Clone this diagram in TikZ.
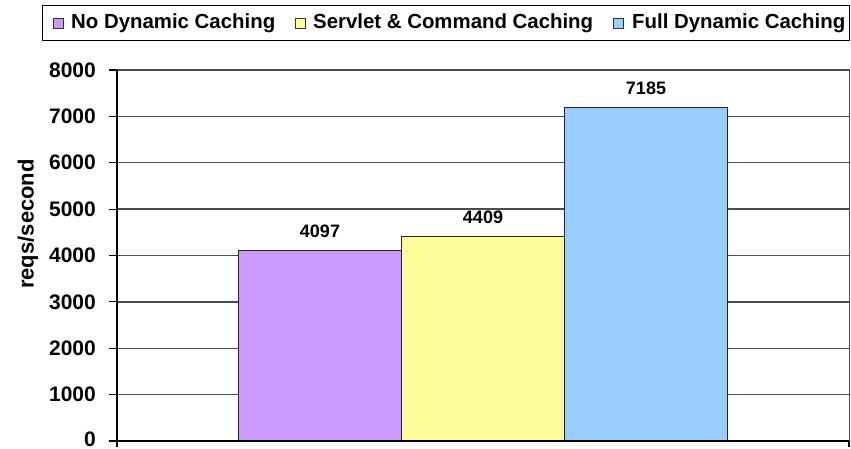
\documentclass[tikz,border=0pt]{standalone}
\usepackage{fontspec}
\setmainfont{Liberation Sans}
\begin{document}
\begin{tikzpicture}[x=1pt,y=-1pt,
  grid/.style={draw=black!70,line width=1.3pt},
  axisline/.style={draw=black,line width=1.2pt},
  bar/.style={draw=black!85,line width=1pt,anchor=south west,inner sep=0pt,minimum width=163pt},
  val/.style={font=\fontsize{18}{20}\selectfont\bfseries,inner sep=0pt},
  tick/.style={font=\fontsize{21}{24}\selectfont\bfseries,anchor=east,inner sep=0pt},
  legtext/.style={font=\fontsize{20.4}{24}\selectfont\bfseries,anchor=west,inner sep=0pt},
  legkey/.style={draw=black!80,line width=0.8pt,minimum size=10pt,inner sep=0pt}]
\useasboundingbox (0,0) rectangle (851,449);
% plot area frame and horizontal gridlines
\draw[draw=black!70,line width=1pt] (117,70) rectangle (849,441);
\foreach \k in {1,...,8} {
  \draw[grid] (117,{441-46.375*\k}) -- (849,{441-46.375*\k});
}
% bars
\node[bar,fill={rgb,255:red,204;green,153;blue,255},minimum height={46.375*4.097}] (b1) at (238,441) {};
\node[bar,fill={rgb,255:red,252;green,252;blue,153},minimum height={46.375*4.409}] (b2) at (401,441) {};
\node[bar,fill={rgb,255:red,153;green,204;blue,255},minimum height={46.375*7.185}] (b3) at (564,441) {};
\node[val] (v1) at ([yshift=18.5pt]b1.north) {4097};
\node[val] (v2) at ([yshift=18.5pt]b2.north) {4409};
\node[val] (v3) at ([yshift=18.5pt]b3.north) {7185};
% axes
\draw[axisline] (117,70) -- (117,447);
\draw[axisline] (109,441) -- (849,441);
\draw[axisline] (849,441) -- (849,447);
\foreach \k in {1,...,8} {
  \draw[axisline] (109,{441-46.375*\k}) -- (117,{441-46.375*\k});
}
\foreach \k in {1,...,8} {
  \node[tick] (t\k) at (96,{441-46.375*\k}) {\pgfmathparse{int(1000*\k)}\pgfmathresult};
}
\node[tick] (t0) at (96,439.5) {0};
\node[rotate=90,font=\fontsize{22}{24}\selectfont\bfseries,inner sep=0pt] (ylab) at (28,224) {reqs/second};
% legend
\node[draw=black,line width=1pt,minimum width=807pt,minimum height=35pt,anchor=north west,inner sep=0pt] (leg) at (42,5) {};
\node[legkey,fill={rgb,255:red,204;green,153;blue,255}] (k1) at (58,23) {};
\node[legtext] (l1) at (71,23) {No Dynamic Caching};
\node[legkey,fill={rgb,255:red,252;green,252;blue,153}] (k2) at (300,23) {};
\node[legtext] (l2) at (313,23) {Servlet \& Command Caching};
\node[legkey,fill={rgb,255:red,153;green,204;blue,255}] (k3) at (618,23) {};
\node[legtext] (l3) at (632,23) {Full Dynamic Caching};
\end{tikzpicture}
\end{document}
